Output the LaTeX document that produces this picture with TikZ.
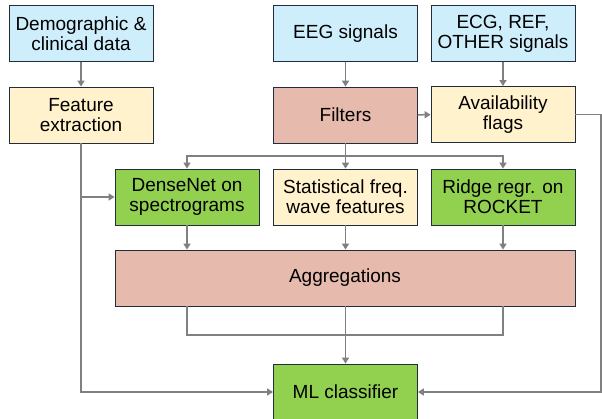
\documentclass[tikz,border=0pt]{standalone}
\usepackage{fontspec}
\setmainfont{Liberation Sans}
\usetikzlibrary{arrows.meta}

\definecolor{sigblue}{RGB}{207,238,252}
\definecolor{featyellow}{RGB}{255,242,204}
\definecolor{procred}{RGB}{230,186,172}
\definecolor{modgreen}{RGB}{146,208,80}
\definecolor{boxline}{RGB}{33,45,60}
\definecolor{flowgrey}{RGB}{128,128,128}

\begin{document}
\begin{tikzpicture}[x=1pt,y=-1pt,
	box/.style={draw=boxline,line width=0.8pt,minimum width=144pt,minimum height=56pt,
		align=center,inner sep=2pt,font=\fontsize{19}{20}\selectfont},
	sig/.style={box,fill=sigblue},
	feat/.style={box,fill=featyellow},
	proc/.style={box,fill=procred},
	model/.style={box,fill=modgreen},
	flow/.style={draw=flowgrey,line width=1.5pt},
	arr/.style={flow,-{Triangle[length=6pt,width=7pt]}}]
	\useasboundingbox (0,0) rectangle (602,419);

	%INPUTS
	\node[sig] (demo) at (81,33.5) {Demographic \&\\clinical data};
	\node[sig] (eeg) at (345.5,33.5) {EEG signals};
	\node[sig] (ecg) at (503,33.5) {ECG, REF,\\OTHER signals};

	%PREPROCESSING
	\node[feat] (fext) at (81,115) {Feature\\extraction};
	\node[proc] (filt) at (345.5,115) {Filters};
	\node[feat] (avail) at (503,114.5) {Availability\\flags};

	%MODELS
	\node[model] (dense) at (187,197) {DenseNet on\\spectrograms};
	\node[feat] (stat) at (345.5,197) {Statistical freq.\\wave features};
	\node[model] (ridge) at (503,197) {Ridge regr. on\\ROCKET};

	%AGGREGATION AND CLASSIFIER
	\node[proc,minimum width=460pt] (aggr) at (345,278) {Aggregations};
	\node[model] (ml) at (345.5,392) {ML classifier};

	%CONNECTORS
	\draw[arr] (demo) -- (fext);
	\draw[arr] (eeg) -- (filt);
	\draw[arr] (ecg) -- (avail);
	\draw[arr] (filt) -- (avail);
	\coordinate (fsplit) at (345.5,156);
	\draw[arr] (filt) -- (stat);
	\foreach \m in {dense,ridge}{
		\draw[arr] (fsplit) -| (\m.north); %branches
	}
	\draw[arr] (fext.south) |- (ml.west);
	\draw[arr] (fext.south |- dense.west) -- (dense.west);
	\foreach \m in {dense,stat,ridge}{
		\draw[arr] (\m.south) -- (\m.south |- aggr.north); %into aggregation
	}
	\coordinate (ajoin) at (345.5,335);
	\draw[flow] (dense.south |- aggr.south) |- (ajoin) -| (ridge.south |- aggr.south);
	\draw[arr] (aggr.south -| ml.north) -- (ml.north);
	\draw[arr] (avail.east) -- ++(25.5,0) |- (ml.east);
\end{tikzpicture}
\end{document}
